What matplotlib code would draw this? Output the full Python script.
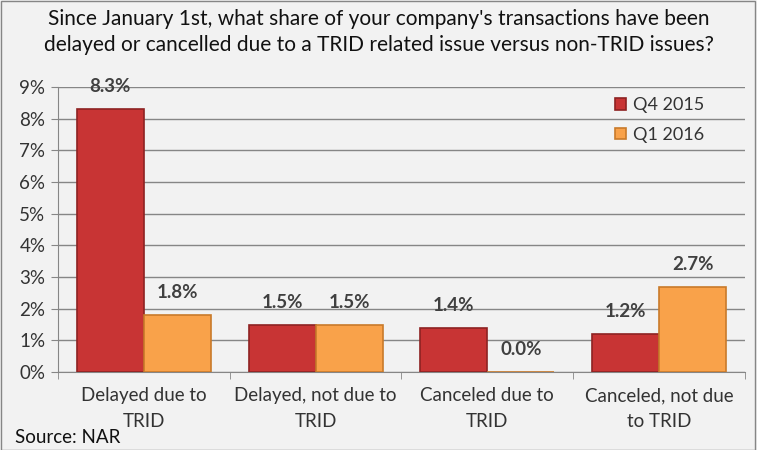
import numpy as np
import matplotlib.pyplot as plt

categories = ['Delayed due to\nTRID', 'Delayed, not due to\nTRID',
              'Canceled due to\nTRID', 'Canceled, not due\nto TRID']
q4_2015 = [8.3, 1.5, 1.4, 1.2]
q1_2016 = [1.8, 1.5, 0.0, 2.7]
series_names = ['Q4 2015', 'Q1 2016']

plt.rcParams['font.family'] = ['Lato', 'DejaVu Sans']

fig = plt.figure(figsize=(7.57, 4.5), dpi=100, facecolor='#f2f2f2')
ax = fig.add_axes([0.0766, 0.173, 0.9074, 0.634])
ax.set_facecolor('#f2f2f2')

x = np.arange(len(categories))
w = 0.39
b1 = ax.bar(x - w/2, q4_2015, w, color='#c83434', edgecolor='#8e2222', linewidth=1.2,
            label=series_names[0], zorder=3)
b2 = ax.bar(x + w/2, q1_2016, w, color='#f9a24a', edgecolor='#c97a2a', linewidth=1.2,
            label=series_names[1], zorder=3)

for bars in (b1, b2):
    for r in bars:
        h = r.get_height()
        ax.annotate('%.1f%%' % h, (r.get_x() + r.get_width()/2, h), xytext=(0, 16),
                    textcoords='offset points', ha='center', va='center',
                    fontsize=13.5, fontweight='bold', color='#404040')

ax.set_ylim(0, 9)
ax.set_xlim(-0.5, 3.5)
ax.set_yticks(range(0, 10))
ax.set_yticklabels(['%d%%' % v for v in range(0, 10)], fontsize=13.5, color='#333333')
ax.yaxis.grid(True, color='#868686', linewidth=1, zorder=0)
ax.set_xticks(x)
ax.set_xticklabels(categories, fontsize=13.5, color='#333333', linespacing=1.6)
ax.set_xticks(np.arange(-0.5, 4, 1), minor=True)
ax.tick_params(axis='x', which='major', length=0, pad=11)
ax.tick_params(axis='x', which='minor', length=5, color='#868686')
ax.tick_params(axis='y', length=5, color='#868686', pad=4)
for s in ['top', 'right']:
    ax.spines[s].set_visible(False)
ax.spines['left'].set_color('#868686')
ax.spines['bottom'].set_color('#868686')

ax.legend(loc='upper right', bbox_to_anchor=(0.965, 1.02), frameon=False, fontsize=13,
          handlelength=0.6, handleheight=0.6, handletextpad=0.4, labelspacing=0.75,
          labelcolor='#333333')

fig.text(0.5, 0.98, "Since January 1st, what share of your company's transactions have been\n"
         "delayed or cancelled due to a TRID related issue versus non-TRID issues?",
         ha='center', va='top', fontsize=15, color='#111111', linespacing=1.35)
fig.text(0.02, 0.008, 'Source: NAR', fontsize=13.5, color='#111111', ha='left', va='bottom')

border = plt.Rectangle((0.001, 0.001), 0.997, 0.997, transform=fig.transFigure,
                       fill=False, edgecolor='#868686', linewidth=1)
fig.patches.append(border)

fig.savefig('out.png', dpi=100, facecolor=fig.get_facecolor())
